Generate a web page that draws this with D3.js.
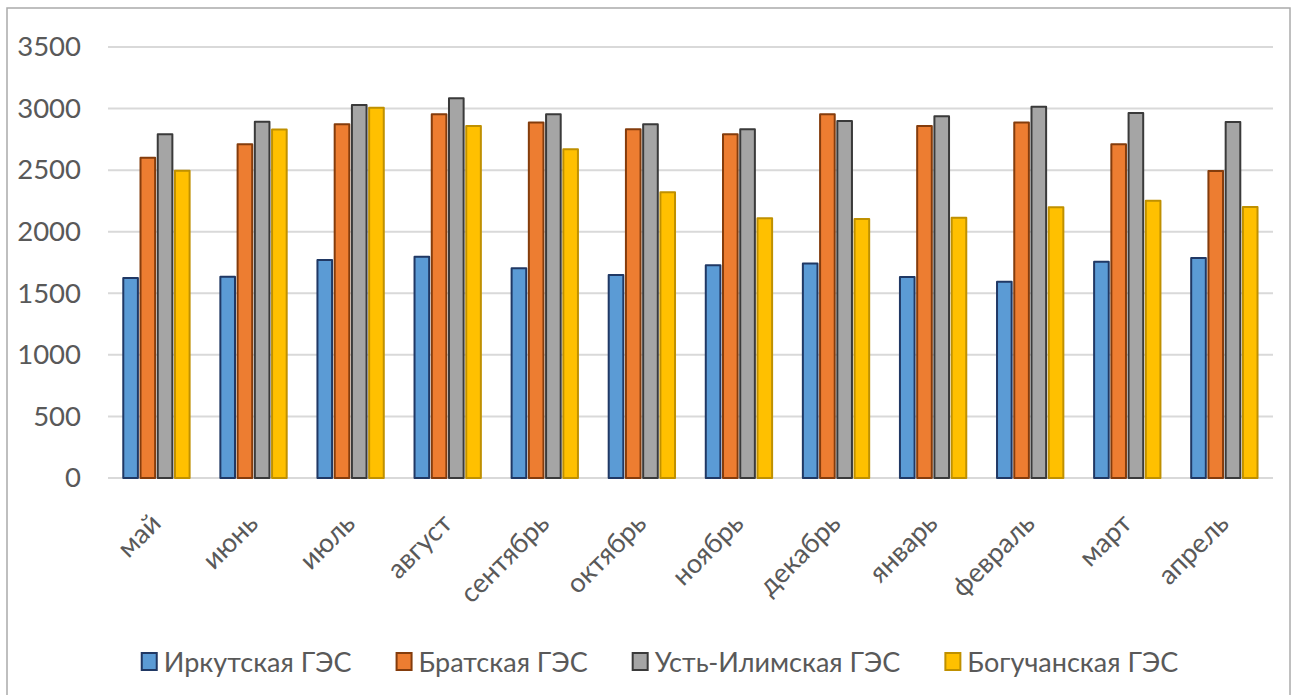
<!DOCTYPE html>
<html>
<head>
<meta charset="utf-8">
<script src="https://cdn.jsdelivr.net/npm/d3@7"></script>
<style>
  html, body { margin: 0; padding: 0; background: #fff; }
  svg { display: block; }
  text { font-family: Lato, "Open Sans", sans-serif; fill: #595959; }
</style>
</head>
<body>
<svg id="chart" width="1297" height="695"></svg>
<script>
const months = ["май","июнь","июль","август","сентябрь","октябрь","ноябрь","декабрь","январь","февраль","март","апрель"];
const seriesNames = ["Иркутская ГЭС","Братская ГЭС","Усть-Илимская ГЭС","Богучанская ГЭС"];
const irkutsk   = [1624,1635,1770,1797,1703,1649,1727,1741,1632,1594,1757,1787];
const bratsk    = [2601,2710,2872,2953,2886,2832,2791,2953,2859,2886,2710,2493];
const ustIlimsk = [2791,2893,3029,3084,2953,2872,2832,2899,2937,3015,2964,2891];
const boguchany = [2496,2831,3007,2859,2669,2320,2109,2103,2114,2198,2252,2201];
const yTicks = [0,500,1000,1500,2000,2500,3000,3500];

const seriesValues = [irkutsk, bratsk, ustIlimsk, boguchany];
const fills   = ["#5B9BD5","#ED7D31","#A5A5A5","#FFC000"];
const strokes = ["#203864","#843C0C","#3A3A3A","#BF9000"];

const svg = d3.select("#chart");

// outer frame
svg.append("rect")
  .attr("x", 7).attr("y", 8).attr("width", 1283).attr("height", 720)
  .attr("fill", "#fff").attr("stroke", "#ABABAB").attr("stroke-width", 1.5);

const plot = {left: 108, right: 1273, top: 47, bottom: 478};

const x = d3.scaleBand().domain(months).range([plot.left, plot.right])
  .paddingInner(0.29).paddingOuter(0.145);
const xs = d3.scaleBand().domain(d3.range(seriesNames.length)).range([0, x.bandwidth()]).padding(0);
const y = d3.scaleLinear().domain([0, 3500]).range([plot.bottom, plot.top]);

// gridlines
svg.append("g").selectAll("line").data(yTicks).join("line")
  .attr("x1", plot.left).attr("x2", plot.right)
  .attr("y1", d => y(d)).attr("y2", d => y(d))
  .attr("stroke", "#D9D9D9").attr("stroke-width", 2);

// y axis labels
const yAxis = d3.axisLeft(y).tickValues(yTicks).tickSize(0).tickPadding(0).tickFormat(d3.format("d"));
const gy = svg.append("g").attr("transform", `translate(81,0)`).call(yAxis);
gy.select(".domain").remove();
gy.selectAll("text").attr("font-size", 27.5).style("font-family", "Lato, 'Open Sans', sans-serif").attr("fill", "#595959");

// bars
const data = [];
months.forEach((m, i) => seriesValues.forEach((vals, s) => data.push({m, s, v: vals[i]})));
const barW = xs.bandwidth();
svg.append("g").selectAll("rect").data(data).join("rect")
  .attr("x", d => x(d.m) + xs(d.s) + 1.2)
  .attr("y", d => y(d.v))
  .attr("width", barW - 2.6)
  .attr("height", d => y(0) - y(d.v))
  .attr("fill", d => fills[d.s])
  .attr("stroke", d => strokes[d.s])
  .attr("stroke-width", 2)
  .attr("stroke-linejoin", "round");

// x labels
const gx = svg.append("g");
gx.selectAll("text").data(months).join("text")
  .attr("transform", d => `translate(${x(d) + x.bandwidth()/2 + 6},525) rotate(-45)`)
  .attr("text-anchor", "end")
  .attr("font-size", 27)
  .text(d => d);

// legend
const lg = svg.append("g");
const items = lg.selectAll("g").data(seriesNames).join("g");
items.append("rect")
  .attr("x", 0).attr("y", 653).attr("width", 15).attr("height", 17)
  .attr("fill", (d, i) => fills[i]).attr("stroke", (d, i) => strokes[i]).attr("stroke-width", 2);
items.append("text")
  .attr("x", 22).attr("y", 672).attr("font-size", 27)
  .text(d => d);
const widths = [];
items.each(function() {
  const w = d3.select(this).select("text").node().getComputedTextLength();
  widths.push(22 + w);
});
const gap = 45;
const total = d3.sum(widths) + gap * (widths.length - 1);
let start = 660 - total / 2;
items.attr("transform", (d, i) => {
  const t = `translate(${start},0)`;
  start += widths[i] + gap;
  return t;
});
</script>
</body>
</html>
